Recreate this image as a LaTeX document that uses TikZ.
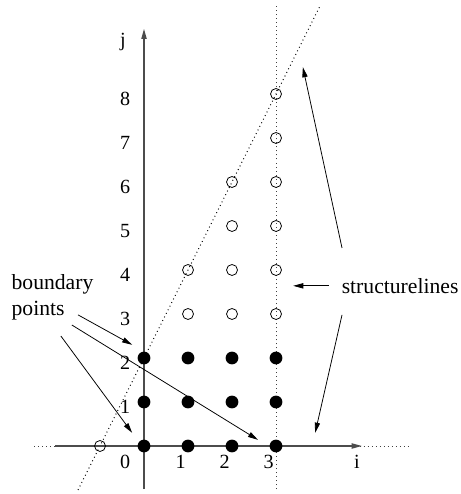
\documentclass[tikz,border=0pt]{standalone}
\usepackage{fontspec}
\setmainfont{Liberation Serif}
\usetikzlibrary{arrows.meta}
\begin{document}
\begin{tikzpicture}[x=1cm,y=1cm,
  lbl/.style={font=\fontsize{13}{15}\selectfont, inner sep=0pt},
  bigl/.style={font=\fontsize{14}{16.5}\selectfont, inner sep=0pt, align=left},
  full/.style={circle, fill=black, minimum size=0.29cm, inner sep=0pt},
  empty/.style={circle, draw=black, line width=0.5pt, minimum size=0.25cm, inner sep=0pt},
  axis/.style={draw=black!70, line width=0.8pt, -{Triangle[length=2.3mm,width=1.2mm]}},
  guide/.style={draw=black!75, dotted, line width=0.6pt},
  pointer/.style={draw=black, line width=0.5pt, -{Triangle[length=2.3mm,width=1.2mm]}}
]
\useasboundingbox (-3.273,-1.091) rectangle (7.182,10.136);

% guide lines
\coordinate (hL) at (-2.5,0);
\coordinate (hR) at (6.0,0);
\coordinate (vB) at (3,-0.98);
\coordinate (vT) at (3,10.0);
\coordinate (dB) at (-1.5,-1.0);
\coordinate (dT) at (4.0,10.0);
\draw[guide] (hL) -- (hR);
\draw[guide] (vB) -- (vT);
\draw[guide, draw=black] (dB) -- (dT);

% axes
\coordinate (xs) at (-2.02,0);
\coordinate (xe) at (4.95,0);
\coordinate (ys) at (0,-0.98);
\coordinate (ye) at (0,9.48);
\draw[axis] (xs) -- (xe);
\draw[axis] (ys) -- (ye);

% points
\foreach \j in {0,1,2} {
  \foreach \i in {0,1,2,3} {
    \node[full] (p\i\j) at (\i,\j) {};
  }
}
\foreach \i/\j in {1/3,2/3,3/3,1/4,2/4,3/4,2/5,3/5,2/6,3/6,3/7,3/8,-1/0} {
  \node[empty] (q\i\j) at (\i,\j) {};
}

% axis labels
\node[lbl] (lj) at (-0.48,9.18) {j};
\foreach \j in {1,...,8} {
  \node[lbl] (lj\j) at (-0.43,\j-0.11) {\j};
}
\node[lbl] (li0) at (-0.43,-0.36) {0};
\foreach \i in {1,2,3} {
  \node[lbl] (li\i) at (\i-0.17,-0.36) {\i};
}
\node[lbl] (li) at (4.84,-0.36) {i};

% labels
\node[bigl] (bp) at (-2.08,3.375) {boundary\\points};
\node[bigl] (sl) at (5.82,3.64) {structurelines};

% pointers
\coordinate (b1s) at (-1.5,2.98);
\coordinate (b1e) at (-0.27,2.30);
\coordinate (b2s) at (-1.64,2.75);
\coordinate (b2e) at (2.59,0.14);
\coordinate (b3s) at (-1.89,2.5);
\coordinate (b3e) at (-0.27,0.30);
\draw[pointer] (b1s) -- (b1e);
\draw[pointer] (b2s) -- (b2e);
\draw[pointer] (b3s) -- (b3e);

\coordinate (s1s) at (4.2,3.64);
\coordinate (s1e) at (3.39,3.64);
\coordinate (s2s) at (4.5,2.98);
\coordinate (s2e) at (3.89,0.30);
\coordinate (s3s) at (4.5,4.5);
\coordinate (s3e) at (3.61,8.61);
\draw[pointer] (s1s) -- (s1e);
\draw[pointer] (s2s) -- (s2e);
\draw[pointer] (s3s) -- (s3e);
\end{tikzpicture}
\end{document}
